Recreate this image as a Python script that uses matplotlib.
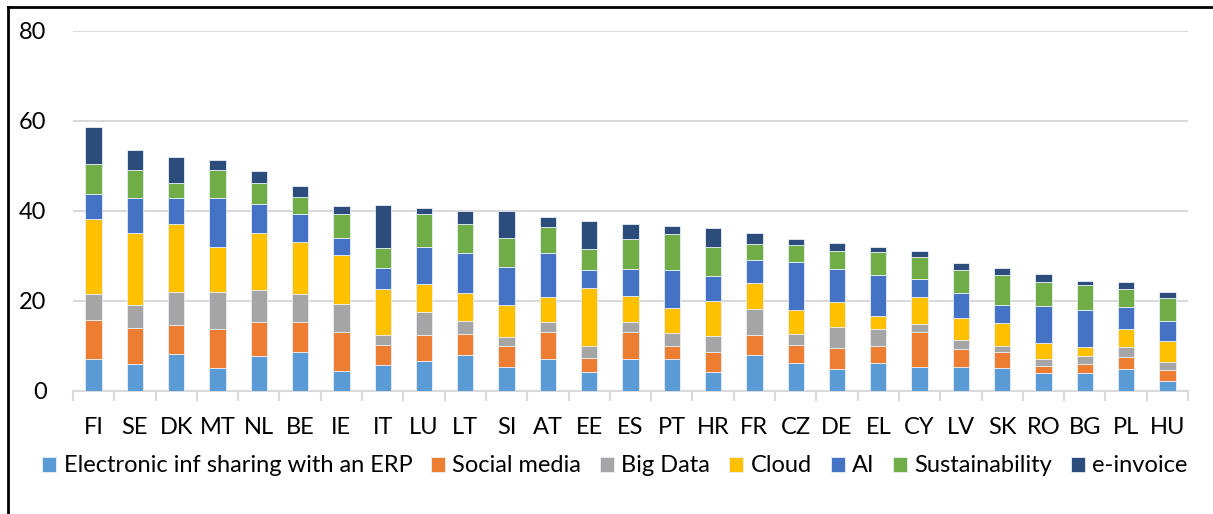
import matplotlib
matplotlib.use("Agg")
import matplotlib.pyplot as plt
from matplotlib.lines import Line2D
import numpy as np

plt.rcParams['font.family'] = ['Lato', 'DejaVu Sans']

countries = ["FI", "SE", "DK", "MT", "NL", "BE", "IE", "IT", "LU", "LT", "SI", "AT", "EE", "ES",
             "PT", "HR", "FR", "CZ", "DE", "EL", "CY", "LV", "SK", "RO", "BG", "PL", "HU"]

erp = [7.0, 5.9, 8.1, 5.0, 7.7, 8.6, 4.4, 5.7, 6.5, 7.9, 5.3, 7.0, 4.1, 7.0,
       6.9, 4.2, 7.9, 6.1, 4.7, 6.2, 5.3, 5.3, 5.1, 3.8, 3.8, 4.7, 2.2]
social = [8.7, 8.0, 6.4, 8.7, 7.6, 6.7, 8.7, 4.4, 5.9, 4.7, 4.7, 5.9, 3.1, 5.9,
          3.1, 4.4, 4.4, 4.1, 4.7, 3.8, 7.8, 3.9, 3.5, 1.7, 2.0, 2.7, 2.4]
bigdata = [5.8, 5.1, 7.3, 8.2, 7.1, 6.1, 6.1, 2.3, 5.0, 2.9, 1.8, 2.3, 2.7, 2.4,
           2.8, 3.6, 5.8, 2.4, 4.8, 3.6, 1.6, 2.1, 1.4, 1.4, 1.8, 2.3, 1.8]
cloud = [16.6, 15.9, 15.1, 10.1, 12.7, 11.5, 11.0, 10.2, 6.2, 6.2, 7.1, 5.6, 12.8, 5.8,
         5.6, 7.7, 5.8, 5.4, 5.4, 3.0, 6.1, 4.8, 5.0, 3.6, 2.0, 4.0, 4.7]
ai = [5.5, 7.9, 5.9, 10.7, 6.3, 6.4, 3.7, 4.7, 8.3, 8.9, 8.6, 9.8, 4.0, 6.0,
      8.4, 5.5, 5.1, 10.6, 7.4, 9.0, 3.9, 5.6, 3.9, 8.2, 8.3, 4.8, 4.4]
sustain = [6.7, 6.2, 3.4, 6.4, 4.8, 3.7, 5.4, 4.4, 7.3, 6.5, 6.4, 5.8, 4.7, 6.6,
           7.9, 6.4, 3.6, 3.7, 3.9, 5.1, 5.0, 5.1, 6.7, 5.5, 5.5, 4.1, 5.0]
einvoice = [8.3, 4.5, 5.7, 2.1, 2.6, 2.4, 1.8, 9.6, 1.3, 2.7, 5.9, 2.2, 6.2, 3.3,
            1.8, 4.4, 2.4, 1.3, 1.8, 1.2, 1.3, 1.5, 1.6, 1.6, 1.0, 1.4, 1.3]

series_names = ["Electronic inf sharing with an ERP", "Social media", "Big Data", "Cloud",
                "AI", "Sustainability", "e-invoice"]
series_values = [erp, social, bigdata, cloud, ai, sustain, einvoice]
colors = ["#5B9BD5", "#ED7D31", "#A5A5A5", "#FFC000", "#4472C4", "#70AD47", "#2C4C7B"]
y_ticks = [0, 20, 40, 60, 80]

FS = 17
W, H = 1213, 514
fig = plt.figure(figsize=(W / 100, H / 100), dpi=100)
ax = fig.add_axes([73 / W, 1 - 390.5 / H, (1188 - 73) / W, (390.5 - 30.5) / H])

x = np.arange(len(countries))
bottom = np.zeros(len(countries))
handles = []
for name, vals, col in zip(series_names, series_values, colors):
    v = np.array(vals)
    b = ax.bar(x, v, width=0.395, bottom=bottom, color=col, edgecolor="#E8EEF6",
               linewidth=0.6, label=name, zorder=3)
    bottom += v
    handles.append(b)

ax.set_xlim(-0.5, len(countries) - 0.5)
ax.set_ylim(0, 80)
ax.set_yticks(y_ticks)
ax.set_yticklabels([str(t) for t in y_ticks], fontsize=FS)
ax.grid(axis="y", color="#D9D9D9", linewidth=1.5, zorder=0)
ax.set_axisbelow(True)
for s in ["top", "right", "left"]:
    ax.spines[s].set_visible(False)
ax.spines["bottom"].set_color("#D9D9D9")
ax.spines["bottom"].set_linewidth(1.5)
ax.tick_params(axis="y", length=0, pad=19)

ax.set_xticks(x)
ax.set_xticklabels(countries, fontsize=FS)
ax.tick_params(axis="x", length=0, pad=19)
ax.set_xticks(np.arange(-0.5, len(countries)), minor=True)
ax.tick_params(axis="x", which="minor", length=7, width=1.5, color="#D9D9D9")

leg = fig.legend(handles=handles, labels=series_names, loc="center",
                 bbox_to_anchor=(615 / W, 1 - 466 / H), ncol=7, frameon=False,
                 fontsize=FS, handlelength=0.6, handleheight=0.6,
                 handletextpad=0.3, columnspacing=0.8, borderaxespad=0)

# outer frame (left and top edges visible in reference)
fig.add_artist(Line2D([7.5 / W, 7.5 / W], [0, 1 - 6.5 / H], color="black", linewidth=2,
                      transform=fig.transFigure))
fig.add_artist(Line2D([7.5 / W, 1], [1 - 6.5 / H, 1 - 6.5 / H], color="black", linewidth=2,
                      transform=fig.transFigure))

fig.savefig("out.png", dpi=100)
